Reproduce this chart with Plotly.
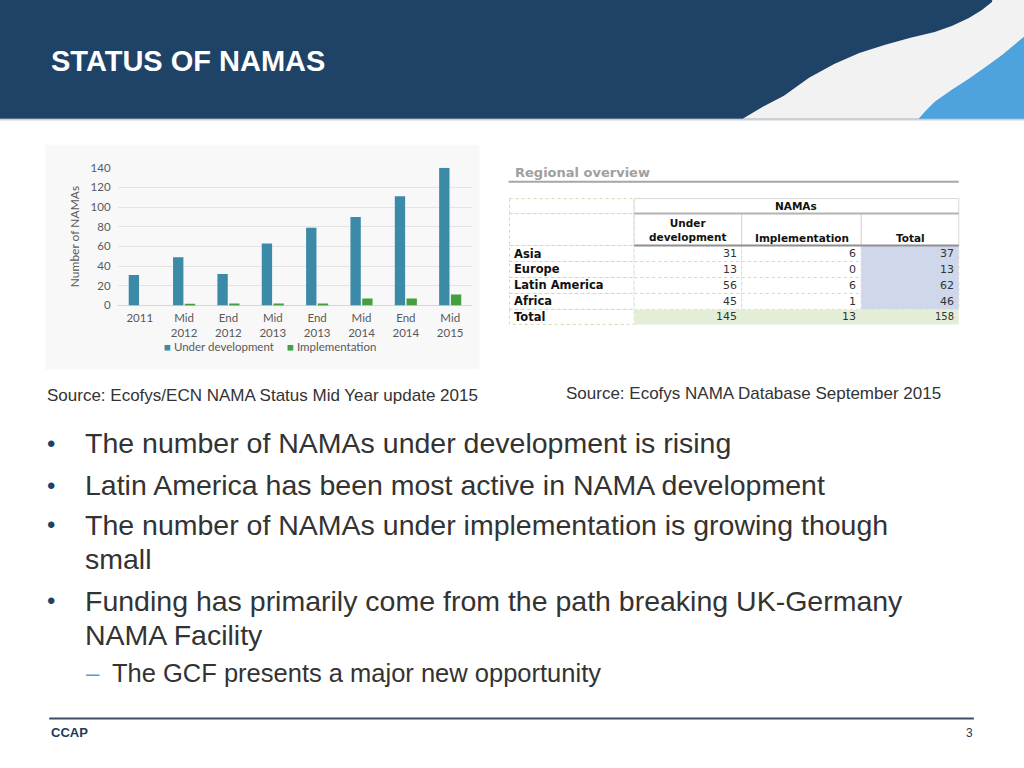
import plotly.graph_objects as go

# ---------------- data ----------------
categories = ["2011", "Mid<br>2012", "End<br>2012", "Mid<br>2013", "End<br>2013",
              "Mid<br>2014", "End<br>2014", "Mid<br>2015"]
under_development = [31, 49, 32, 63, 79, 90, 111, 140]
implementation = [0, 1, 2, 2, 2, 7, 7, 11]
y_tick_values = [0, 20, 40, 60, 80, 100, 120, 140]
series_names = ["Under development", "Implementation"]

table_title = "Regional overview"
table_group_header = "NAMAs"
table_col_headers = ["Under<br>development", "Implementation", "Total"]
regions = ["Asia", "Europe", "Latin America", "Africa"]
region_under_dev = [31, 13, 56, 45]
region_impl = [6, 0, 6, 1]
region_total = [37, 13, 62, 46]
total_row_label = "Total"
total_values = [145, 13, 158]

slide_title = "STATUS OF NAMAS"
source_left = "Source: Ecofys/ECN NAMA Status Mid Year update 2015"
source_right = "Source: Ecofys NAMA Database September 2015"
bullet_lines = [
    ("•", "The number of NAMAs under development is rising"),
    ("•", "Latin America has been most active in NAMA development"),
    ("•", "The number of NAMAs under implementation is growing though"),
    ("", "small"),
    ("•", "Funding has primarily come from the path breaking UK-Germany"),
    ("", "NAMA Facility"),
    ("–", "The GCF presents a major new opportunity"),
]
footer_left = "CCAP"
footer_right = "3"

# ---------------- layout helpers ----------------
W, H = 1024, 768
OFFX, SX, OFFY, SY = 3.0, 0.995, 5.0, 0.985
def X(px):
    return (px - OFFX) / SX / W
def Y(py):
    return 1 - (py - OFFY) / SY / H

DARK = "#1f4267"
BLUE = "#3a8aa8"
GREEN = "#43a03e"
LIGHTBLUE = "#4fa3dc"
TEXT = "#333333"
AXIS_TXT = "#595959"
CHART_FONT = "Lato"
SLIDE_FONT = "Liberation Sans"
TABLE_FONT = "DejaVu Sans"

fig = go.Figure()
fig.add_trace(go.Bar(x=categories, y=under_development, name=series_names[0],
                     marker=dict(color=BLUE, line=dict(width=0))))
fig.add_trace(go.Bar(x=categories, y=implementation, name=series_names[1],
                     marker=dict(color=GREEN, line=dict(width=0))))

shapes = []
annotations = []

def rect(x0, y0, x1, y1, fill, line_color=None, width=0, dash=None, layer="below"):
    ln = dict(width=width)
    if line_color:
        ln["color"] = line_color
    if dash:
        ln["dash"] = dash
    shapes.append(dict(type="rect", xref="paper", yref="paper",
                       x0=X(x0), x1=X(x1), y0=Y(y0), y1=Y(y1),
                       fillcolor=fill, line=ln, layer=layer))

def hline(x0, x1, y, color, width, layer="below", dash=None):
    ln = dict(color=color, width=width)
    if dash:
        ln["dash"] = dash
    shapes.append(dict(type="line", xref="paper", yref="paper",
                       x0=X(x0), x1=X(x1), y0=Y(y), y1=Y(y), line=ln, layer=layer))

def poly(points, fill):
    d = "M " + " L ".join(f"{X(px):.5f},{Y(py):.5f}" for px, py in points) + " Z"
    shapes.append(dict(type="path", xref="paper", yref="paper", path=d,
                       fillcolor=fill, line=dict(width=0), layer="below"))

def text(x, y, s, size, color=TEXT, family=SLIDE_FONT, xanchor="left",
         weight="normal", yanchor="middle", align="left"):
    annotations.append(dict(x=X(x), y=Y(y), xref="paper", yref="paper", text=s,
                            showarrow=False, xanchor=xanchor, yanchor=yanchor,
                            align=align,
                            font=dict(size=size, color=color, family=family, weight=weight)))

# ---------------- header ----------------
rect(-10, -12, W + 12, 117, DARK)
swoosh = [(742, 117), (762, 105), (783, 94), (808, 76), (833, 62), (858, 51), (883, 43),
          (908, 36), (933, 30), (950, 24), (967, 16), (980, 8), (990, 0), (992, -12),
          (W + 12, -12), (W + 12, 117)]
poly(swoosh, "#f2f2f2")
blue_wave = [(917, 117), (925, 108), (933, 100), (950, 88), (967, 77), (985, 64),
             (1000, 53), (1012, 43), (W, 33), (W + 12, 26), (W + 12, 117)]
poly(blue_wave, LIGHTBLUE)
hline(-10, W + 12, 118, "#cfcfcf", 1.5)
text(52, 59, slide_title, 29, color="white", weight="bold")

# ---------------- chart background ----------------
rect(48, 143, 480, 368, "#f8f8f8")

# chart legend (drawn as text)
text(164, 345, f"<span style='color:{BLUE}'>■</span> {series_names[0]}", 11.5,
     color=AXIS_TXT, family=CHART_FONT)
text(287, 345, f"<span style='color:{GREEN}'>■</span> {series_names[1]}", 11.5,
     color=AXIS_TXT, family=CHART_FONT)

# ---------------- table ----------------
text(513, 171, table_title, 13, color="#a0a0a0", family=TABLE_FONT, weight="bold")
hline(509, 957, 180, "#a6a6a6", 2)

col_edges = [510, 634, 741, 860, 957]
row_edges = [197, 212, 244, 260, 276, 292, 308, 323]
LABEL_BORDER = "#cfdba6"
CELL_BORDER = "#d6d6d6"
TOTAL_COL = "#cfd7ea"
TOTAL_ROW = "#e4eed6"

for r in range(len(row_edges) - 1):
    rect(col_edges[0], row_edges[r], col_edges[1], row_edges[r + 1], "white",
         LABEL_BORDER, 1, dash="dot")
rect(col_edges[1], row_edges[0], col_edges[4], row_edges[1], "white", CELL_BORDER, 1)
for c in range(1, 4):
    rect(col_edges[c], row_edges[1], col_edges[c + 1], row_edges[2], "white", CELL_BORDER, 1)
for r in range(2, 6):
    for c in range(1, 4):
        fill = TOTAL_COL if c == 3 else "white"
        rect(col_edges[c], row_edges[r], col_edges[c + 1], row_edges[r + 1], fill,
             CELL_BORDER, 1, dash="dot")
rect(col_edges[1], row_edges[6], col_edges[4], row_edges[7], TOTAL_ROW, "#ffffff", 0)
hline(col_edges[1], col_edges[4], row_edges[1], "#b4b4b4", 2)
hline(col_edges[1], col_edges[4], row_edges[2], "#8f8f8f", 2)

text((col_edges[1] + col_edges[4]) / 2, 204, table_group_header, 10.5, color="#111",
     family=TABLE_FONT, xanchor="center", weight="bold")
text((col_edges[1] + col_edges[2]) / 2, 228, table_col_headers[0], 10.5, color="#111",
     family=TABLE_FONT, xanchor="center", weight="bold", align="center")
text((col_edges[2] + col_edges[3]) / 2, 236, table_col_headers[1], 10.5, color="#111",
     family=TABLE_FONT, xanchor="center", weight="bold")
text((col_edges[3] + col_edges[4]) / 2, 236, table_col_headers[2], 10.5, color="#111",
     family=TABLE_FONT, xanchor="center", weight="bold")

for i, reg in enumerate(regions):
    yc = (row_edges[2 + i] + row_edges[3 + i]) / 2
    text(512, yc, reg, 11.5, color="#111", family=TABLE_FONT, weight="bold")
    for c, val in zip((1, 2, 3), (region_under_dev[i], region_impl[i], region_total[i])):
        text(col_edges[c + 1] - 3, yc, str(val), 11, color=TEXT, family=TABLE_FONT,
             xanchor="right")
yc = (row_edges[6] + row_edges[7]) / 2
text(512, yc, total_row_label, 11.5, color="#111", family=TABLE_FONT, weight="bold")
for c, val in zip((1, 2, 3), total_values):
    text(col_edges[c + 1] - 3, yc, str(val), 11 if c < 3 else 10, color=TEXT,
         family=TABLE_FONT, xanchor="right")

# ---------------- sources ----------------
text(48, 394, source_left, 17)
text(564, 392, source_right, 17)

# ---------------- bullets ----------------
line_y = [442, 484, 524, 558, 600, 634, 672]
for (marker, line), yy in zip(bullet_lines, line_y):
    if marker == "•":
        text(48, yy, marker, 24, color=DARK)
        text(86, yy, line, 28.5)
    elif marker == "–":
        text(87, yy, marker, 24, color=LIGHTBLUE)
        text(112, yy, line, 25.5)
    else:
        text(86, yy, line, 28.5)

# ---------------- footer ----------------
hline(52, 972, 718, "#3c4f66", 2)
text(52, 732, footer_left, 13, color="#1f3a5a", weight="bold")
text(973, 732, footer_right, 12, color="#1f3a5a", xanchor="right")

fig.update_layout(
    width=W, height=H,
    margin=dict(l=0, r=0, t=0, b=0, pad=0),
    paper_bgcolor="white",
    plot_bgcolor="rgba(0,0,0,0)",
    barmode="group", bargap=0.47, bargroupgap=0.12,
    showlegend=False,
    shapes=shapes,
    annotations=annotations,
    xaxis=dict(domain=[X(120), X(473)], showgrid=False, zeroline=False, showline=False,
               ticks="", tickfont=dict(family=CHART_FONT, size=11.5, color=AXIS_TXT),
               ticklabelstandoff=4, fixedrange=True),
    yaxis=dict(domain=[Y(304), Y(166)], range=[0, 140], tickvals=y_tick_values,
               showgrid=True, gridcolor="#e4e4e4", gridwidth=1,
               zeroline=True, zerolinecolor="#d6d6d6", zerolinewidth=1,
               showline=False, ticks="",
               tickfont=dict(family=CHART_FONT, size=11.5, color=AXIS_TXT),
               ticklabelstandoff=6,
               title=dict(text="Number of NAMAs", standoff=8,
                          font=dict(family=CHART_FONT, size=12, color=AXIS_TXT)),
               fixedrange=True),
)

page_fix = (
    "var gd=document.getElementById('{plot_id}');"
    "gd.style.position='fixed';gd.style.left='0px';gd.style.top='0px';"
    "document.body.style.margin='0';"
    "document.documentElement.style.overflow='hidden';"
    "document.body.style.overflow='hidden';"
)
fig.write_html("out.html", config={"displayModeBar": False}, post_script=page_fix)
